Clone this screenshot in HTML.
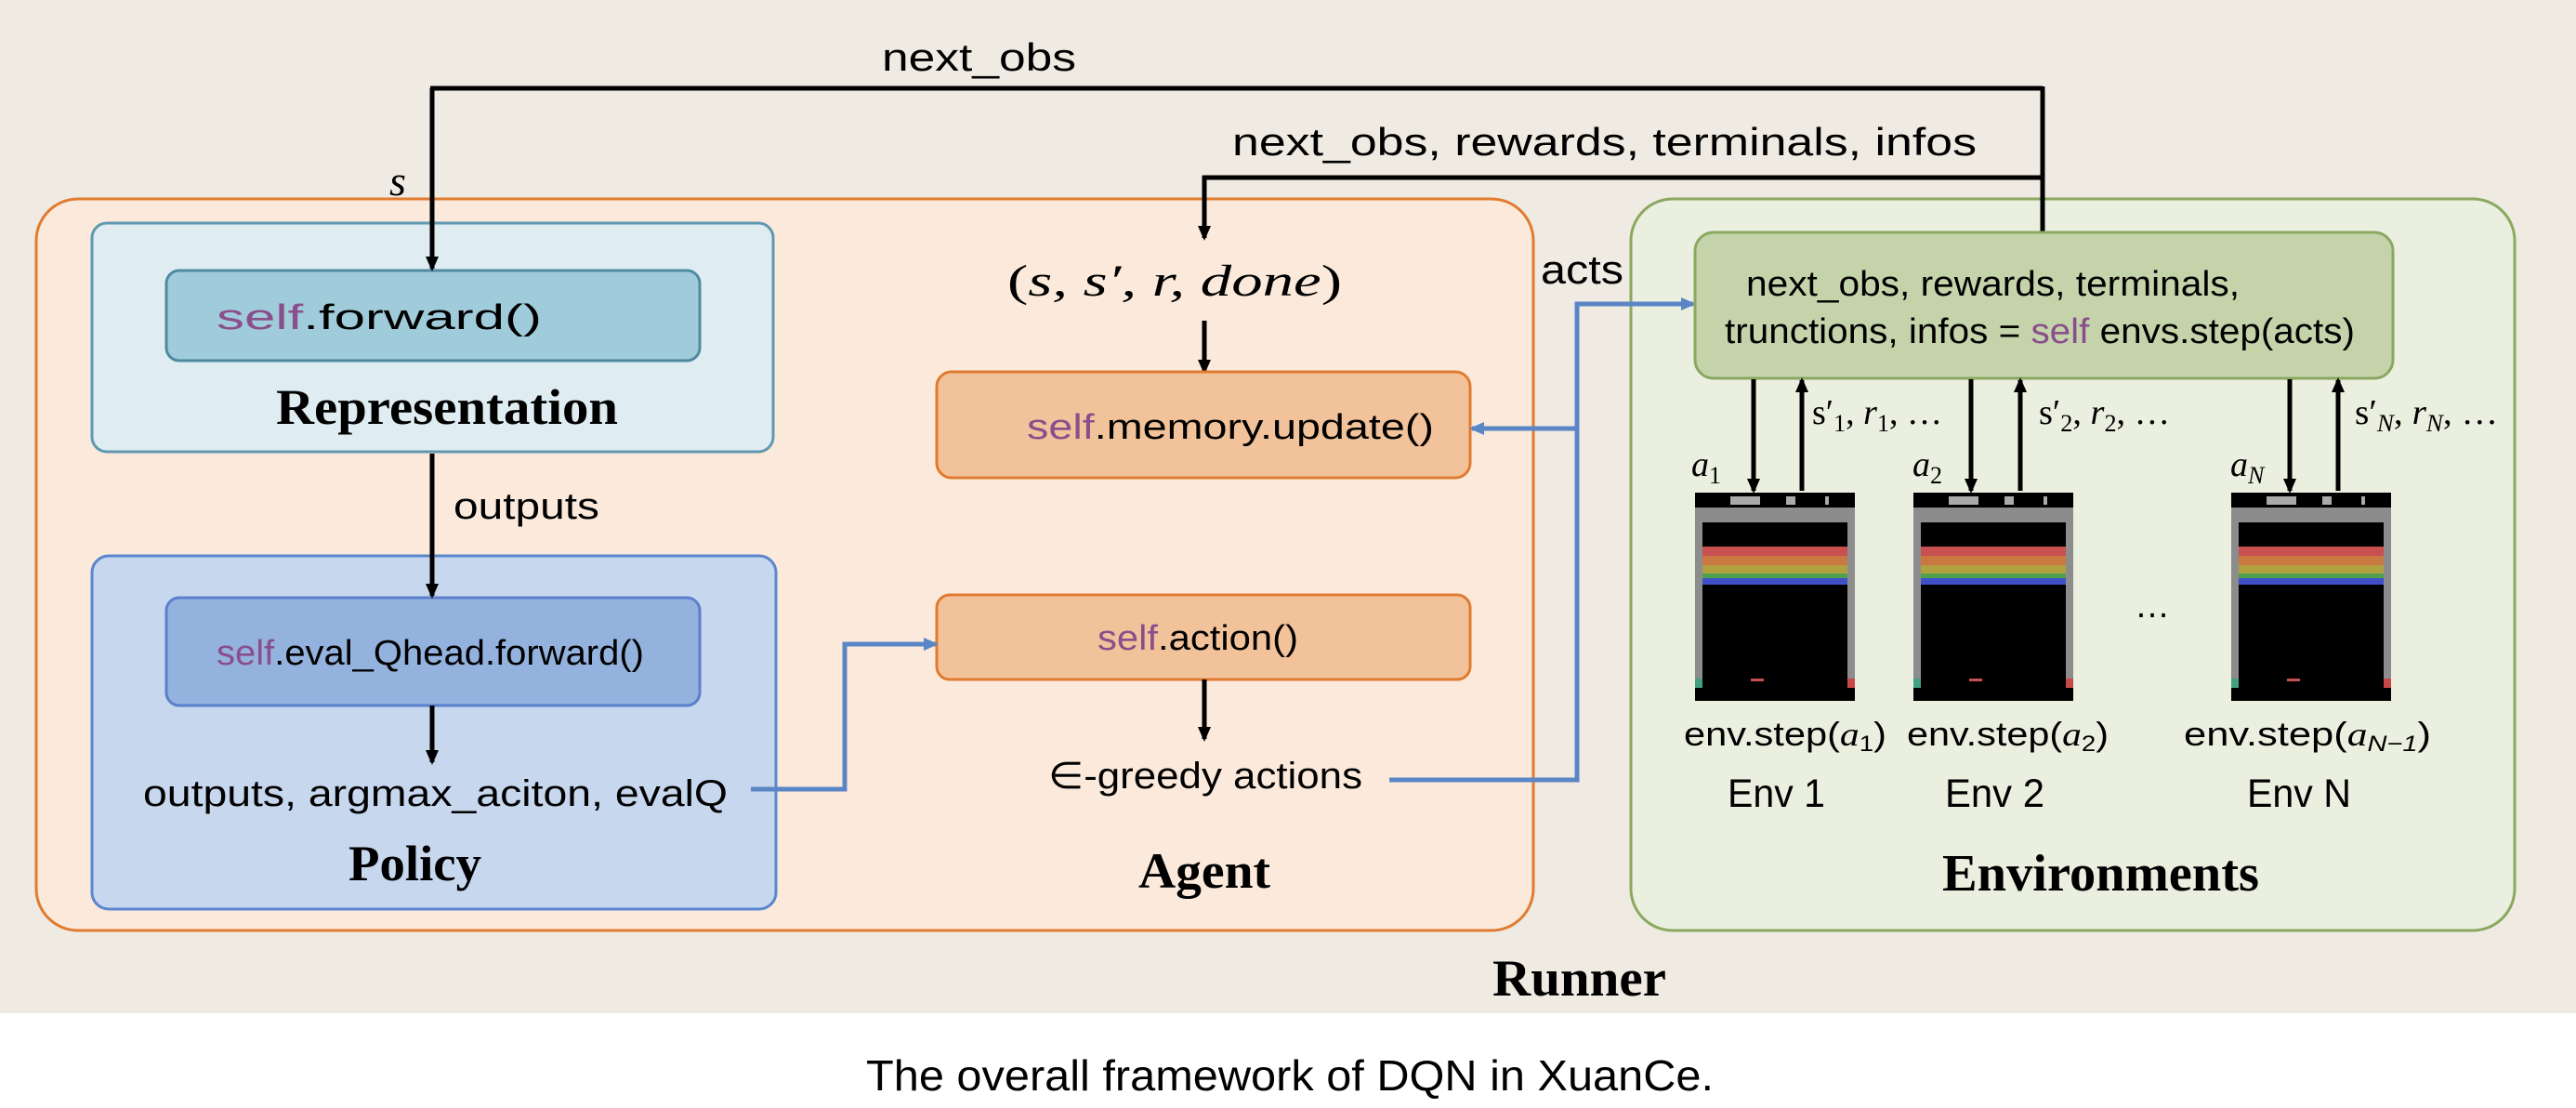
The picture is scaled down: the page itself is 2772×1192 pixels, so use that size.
<!DOCTYPE html>
<html><head><meta charset="utf-8"><style>
html,body{margin:0;padding:0;background:#fff;}
svg{display:block;}
text{font-family:"Liberation Sans",sans-serif;}
.serif{font-family:"Liberation Serif",serif;}
</style></head><body>
<svg width="2772" height="1192" viewBox="0 0 2772 1192" xmlns="http://www.w3.org/2000/svg">
<defs>
<marker id="ak" markerWidth="16" markerHeight="16" refX="13" refY="8" orient="auto" markerUnits="userSpaceOnUse" viewBox="0 0 16 16"><path d="M0,1 L16,8 L0,15 z" fill="#000"/></marker>
<marker id="ab" markerWidth="16" markerHeight="16" refX="13" refY="8" orient="auto" markerUnits="userSpaceOnUse" viewBox="0 0 16 16"><path d="M0,1 L16,8 L0,15 z" fill="#5b86c6"/></marker>
<g id="scr">
<rect x="0" y="0" width="172" height="224" fill="#000"/>
<rect x="0" y="16" width="172" height="194" fill="#8c8c8c"/>
<rect x="8" y="32" width="156" height="192" fill="#000"/>
<rect x="8" y="58" width="156" height="10" fill="#c85050"/>
<rect x="8" y="68" width="156" height="10" fill="#c87840"/>
<rect x="8" y="78" width="156" height="9" fill="#b0a040"/>
<rect x="8" y="87" width="156" height="5" fill="#50a050"/>
<rect x="8" y="92" width="156" height="7" fill="#4050c8"/>
<rect x="60" y="200" width="14" height="3" fill="#c85050"/>
<rect x="0" y="200" width="8" height="10" fill="#40a080"/>
<rect x="164" y="200" width="8" height="10" fill="#c84848"/>
<rect x="38" y="4" width="32" height="9" fill="#aaa"/>
<rect x="98" y="4" width="10" height="9" fill="#aaa"/>
<rect x="140" y="4" width="4" height="9" fill="#aaa"/>
</g>
</defs>
<rect x="0" y="0" width="2772" height="1090" fill="#efebe3"/>

<rect x="39" y="214" width="1611" height="787" rx="45" fill="#fbeadb" stroke="#e07b30" stroke-width="3"/>
<rect x="1755" y="214" width="951" height="787" rx="45" fill="#ebefdf" stroke="#8aa860" stroke-width="3"/>

<rect x="99" y="240" width="733" height="246" rx="16" fill="#dfedf2" stroke="#5f98b0" stroke-width="3"/>
<rect x="179" y="291" width="574" height="97" rx="14" fill="#a0cbda" stroke="#4e8aa0" stroke-width="3"/>
<text x="233" y="354" font-size="38" textLength="350" lengthAdjust="spacingAndGlyphs"><tspan fill="#8a4f8a">self</tspan>.forward()</text>
<text x="297" y="456" font-size="54" font-weight="bold" class="serif" textLength="368" lengthAdjust="spacingAndGlyphs">Representation</text>

<rect x="99" y="598" width="736" height="380" rx="18" fill="#c7d7ee" stroke="#5b86d0" stroke-width="3"/>
<rect x="179" y="643" width="574" height="116" rx="14" fill="#94b2de" stroke="#5b7fcc" stroke-width="3"/>
<text x="233" y="715" font-size="38" textLength="460" lengthAdjust="spacingAndGlyphs"><tspan fill="#8a4f8a">self</tspan>.eval_Qhead.forward()</text>
<text x="154" y="867" font-size="40" textLength="629" lengthAdjust="spacingAndGlyphs">outputs, argmax_aciton, evalQ</text>
<text x="375" y="947" font-size="54" font-weight="bold" class="serif" textLength="143" lengthAdjust="spacingAndGlyphs">Policy</text>

<line x1="465" y1="95" x2="465" y2="289" stroke="#000" stroke-width="5" marker-end="url(#ak)"/>
<line x1="463" y1="95" x2="2198" y2="95" stroke="#000" stroke-width="5"/>
<line x1="2198" y1="93" x2="2198" y2="250" stroke="#000" stroke-width="5"/>
<text x="949" y="76" font-size="42" textLength="209" lengthAdjust="spacingAndGlyphs">next_obs</text>
<text x="428" y="210" font-size="46" font-style="italic" text-anchor="middle" class="serif">s</text>
<line x1="465" y1="488" x2="465" y2="641" stroke="#000" stroke-width="5" marker-end="url(#ak)"/>
<text x="488" y="558" font-size="40" textLength="157" lengthAdjust="spacingAndGlyphs">outputs</text>
<line x1="465" y1="759" x2="465" y2="820" stroke="#000" stroke-width="5" marker-end="url(#ak)"/>

<line x1="1294" y1="191" x2="2198" y2="191" stroke="#000" stroke-width="5"/>
<line x1="1296" y1="189" x2="1296" y2="256" stroke="#000" stroke-width="5" marker-end="url(#ak)"/>
<text x="1326" y="167" font-size="42" textLength="801" lengthAdjust="spacingAndGlyphs">next_obs, rewards, terminals, infos</text>

<text x="1084" y="318" font-size="48" class="serif" font-style="italic" textLength="360" lengthAdjust="spacingAndGlyphs"><tspan font-style="normal">(</tspan>s, s′, r, done<tspan font-style="normal">)</tspan></text>
<line x1="1296" y1="345" x2="1296" y2="400" stroke="#000" stroke-width="5" marker-end="url(#ak)"/>
<rect x="1008" y="400" width="574" height="114" rx="16" fill="#f2c39a" stroke="#e07b30" stroke-width="3"/>
<text x="1105" y="472" font-size="38" textLength="438" lengthAdjust="spacingAndGlyphs"><tspan fill="#8a4f8a">self</tspan>.memory.update()</text>
<rect x="1008" y="640" width="574" height="91" rx="14" fill="#f2c39a" stroke="#e07b30" stroke-width="3"/>
<text x="1181" y="699" font-size="38" textLength="216" lengthAdjust="spacingAndGlyphs"><tspan fill="#8a4f8a">self</tspan>.action()</text>
<line x1="1296" y1="731" x2="1296" y2="795" stroke="#000" stroke-width="5" marker-end="url(#ak)"/>
<text x="1128" y="848" font-size="40" textLength="338" lengthAdjust="spacingAndGlyphs">∈-greedy actions</text>
<text x="1225" y="955" font-size="54" font-weight="bold" class="serif" textLength="142" lengthAdjust="spacingAndGlyphs">Agent</text>

<polyline points="808,849 909,849 909,693 1007,693" fill="none" stroke="#5b86c6" stroke-width="5" marker-end="url(#ab)"/>
<polyline points="1495,839 1697,839 1697,327 1822,327" fill="none" stroke="#5b86c6" stroke-width="5" marker-end="url(#ab)"/>
<line x1="1697" y1="461" x2="1584" y2="461" stroke="#5b86c6" stroke-width="5" marker-end="url(#ab)"/>
<text x="1658" y="305" font-size="44" textLength="89" lengthAdjust="spacingAndGlyphs">acts</text>

<rect x="1824" y="250" width="751" height="157" rx="20" fill="#c5d3ab" stroke="#8aa860" stroke-width="3"/>
<text x="1879" y="318" font-size="38" textLength="531" lengthAdjust="spacingAndGlyphs">next_obs, rewards, terminals,</text>
<text x="1856" y="369" font-size="38" textLength="678" lengthAdjust="spacingAndGlyphs">trunctions, infos = <tspan fill="#8a4f8a">self</tspan> envs.step(acts)</text>

<g stroke="#000" stroke-width="5">
<line x1="1887" y1="408" x2="1887" y2="528" marker-end="url(#ak)"/>
<line x1="1939" y1="528" x2="1939" y2="409" marker-end="url(#ak)"/>
<line x1="2121" y1="408" x2="2121" y2="528" marker-end="url(#ak)"/>
<line x1="2174" y1="528" x2="2174" y2="409" marker-end="url(#ak)"/>
<line x1="2464" y1="408" x2="2464" y2="528" marker-end="url(#ak)"/>
<line x1="2516" y1="528" x2="2516" y2="409" marker-end="url(#ak)"/>
</g>
<g font-size="38" class="serif">
<text x="1820" y="512" font-style="italic" class="serif">a<tspan font-size="26" dy="8" font-style="normal">1</tspan></text>
<text x="2058" y="512" font-style="italic" class="serif">a<tspan font-size="26" dy="8" font-style="normal">2</tspan></text>
<text x="2400" y="512" font-style="italic" class="serif">a<tspan font-size="26" dy="8" font-style="italic">N</tspan></text>
<text x="1950" y="456" class="serif" textLength="140" lengthAdjust="spacingAndGlyphs">s′<tspan font-size="26" dy="8">1</tspan><tspan dy="-8">, </tspan><tspan font-style="italic">r</tspan><tspan font-size="26" dy="8">1</tspan><tspan dy="-8">, …</tspan></text>
<text x="2194" y="456" class="serif" textLength="141" lengthAdjust="spacingAndGlyphs">s′<tspan font-size="26" dy="8">2</tspan><tspan dy="-8">, </tspan><tspan font-style="italic">r</tspan><tspan font-size="26" dy="8">2</tspan><tspan dy="-8">, …</tspan></text>
<text x="2534" y="456" class="serif" textLength="154" lengthAdjust="spacingAndGlyphs">s′<tspan font-size="26" dy="8" font-style="italic">N</tspan><tspan dy="-8">, </tspan><tspan font-style="italic">r</tspan><tspan font-size="26" dy="8" font-style="italic">N</tspan><tspan dy="-8">, …</tspan></text>
</g>

<use href="#scr" x="1824" y="530"/>
<use href="#scr" x="2059" y="530"/>
<use href="#scr" x="2401" y="530"/>
<text x="2316" y="664" font-size="38" text-anchor="middle">…</text>

<g font-size="36">
<text x="1812" y="802" textLength="218" lengthAdjust="spacingAndGlyphs">env.step(<tspan font-style="italic" class="serif">a</tspan><tspan font-size="24" dy="6">1</tspan><tspan dy="-6">)</tspan></text>
<text x="2052" y="802" textLength="217" lengthAdjust="spacingAndGlyphs">env.step(<tspan font-style="italic" class="serif">a</tspan><tspan font-size="24" dy="6">2</tspan><tspan dy="-6">)</tspan></text>
<text x="2350" y="802" textLength="266" lengthAdjust="spacingAndGlyphs">env.step(<tspan font-style="italic" class="serif">a</tspan><tspan font-size="24" dy="6" font-style="italic">N−1</tspan><tspan dy="-6">)</tspan></text>
</g>
<g font-size="43">
<text x="1859" y="868" textLength="105" lengthAdjust="spacingAndGlyphs">Env 1</text>
<text x="2093" y="868" textLength="107" lengthAdjust="spacingAndGlyphs">Env 2</text>
<text x="2418" y="868" textLength="112" lengthAdjust="spacingAndGlyphs">Env N</text>
</g>
<text x="2090" y="958" font-size="56" font-weight="bold" class="serif" textLength="341" lengthAdjust="spacingAndGlyphs">Environments</text>
<text x="1606" y="1071" font-size="56" font-weight="bold" class="serif" textLength="187" lengthAdjust="spacingAndGlyphs">Runner</text>

<text x="932" y="1173" font-size="46" textLength="912" lengthAdjust="spacingAndGlyphs">The overall framework of DQN in XuanCe.</text>
</svg>
</body></html>
